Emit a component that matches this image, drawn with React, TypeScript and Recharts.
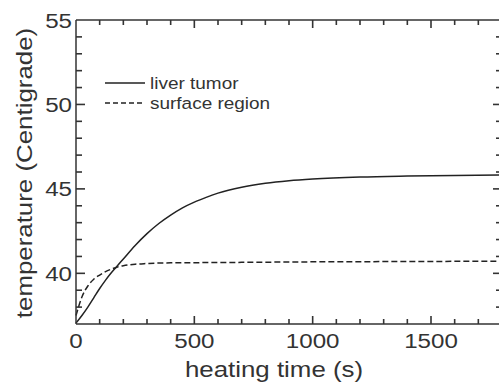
import { LineChart, Line, XAxis, YAxis, ReferenceLine } from 'recharts'

// heating time (s)
const times = [0, 25, 50, 75, 100, 125, 150, 175, 200, 250, 300, 350, 400, 450, 500, 550, 600, 700, 800, 900, 1000, 1200, 1400, 1600, 1800]
const liverTumor = [37.05, 37.5, 38.0, 38.55, 39.1, 39.6, 40.05, 40.45, 40.85, 41.65, 42.35, 42.95, 43.45, 43.88, 44.22, 44.5, 44.75, 45.1, 45.33, 45.48, 45.58, 45.7, 45.76, 45.8, 45.82]
const surfaceRegion = [37.5, 38.6, 39.25, 39.65, 39.9, 40.1, 40.25, 40.38, 40.45, 40.54, 40.58, 40.61, 40.62, 40.63, 40.63, 40.64, 40.64, 40.65, 40.66, 40.67, 40.68, 40.69, 40.7, 40.71, 40.72]
const seriesNames = ['liver tumor', 'surface region']

const xTicks = [0, 100, 200, 300, 400, 500, 600, 700, 800, 900, 1000, 1100, 1200, 1300, 1400, 1500, 1600, 1700, 1800]
const yTicks = [37, 38, 39, 40, 41, 42, 43, 44, 45, 46, 47, 48, 49, 50, 51, 52, 53, 54, 55]

const data = times.map((t, i) => ({ t, tumor: liverTumor[i], surface: surfaceRegion[i] }))

const INK = '#333'
const AXIS = '#333'
// text in the source is wider than Arial, stretch it a bit
const STRETCH = 1.15

function Txt({ x, y, size, anchor = 'start', rotate = 0, children }: any) {
  return (
    <text
      transform={`translate(${x},${y}) rotate(${rotate}) scale(${STRETCH},1)`}
      textAnchor={anchor}
      fontSize={size}
      fontFamily="'Liberation Sans', Arial, sans-serif"
      fill={INK}
    >
      {children}
    </text>
  )
}

const BottomLabel = ({ x, y, payload }: any) => {
  const v = payload.value
  if (v % 500 !== 0 || v >= 1800) return <g />
  return <Txt x={x} y={y + 24} size={21} anchor="middle">{v}</Txt>
}

const LeftLabel = ({ x, y, payload }: any) => {
  const v = payload.value
  if (v % 5 !== 0) return <g />
  return <Txt x={x - 4} y={y + 7.5} size={21} anchor="end">{v}</Txt>
}

// inward ticks on both ends of a reference line (frame ticks)
const vTicks = (len: number) => (p: any) => {
  const top = Math.min(p.y1, p.y2)
  const bottom = Math.max(p.y1, p.y2)
  return (
    <g>
      <line x1={p.x1} x2={p.x1} y1={top} y2={top + len} stroke={AXIS} strokeWidth={1.6} />
      <line x1={p.x1} x2={p.x1} y1={bottom} y2={bottom - len} stroke={AXIS} strokeWidth={1.6} />
    </g>
  )
}

const hTicks = (len: number) => (p: any) => {
  const left = Math.min(p.x1, p.x2)
  const right = Math.max(p.x1, p.x2)
  return (
    <g>
      <line x1={left} x2={left + len} y1={p.y1} y2={p.y1} stroke={AXIS} strokeWidth={1.6} />
      <line x1={right} x2={right - len} y1={p.y1} y2={p.y1} stroke={AXIS} strokeWidth={1.6} />
    </g>
  )
}

// titles and legend, laid over the chart
const Overlay = () => (
  <svg width={499} height={388} style={{ position: 'absolute', left: 0, top: 0, pointerEvents: 'none' }}>
    <Txt x={274} y={377} size={22.5} anchor="middle">heating time (s)</Txt>
    <Txt x={32} y={173} size={22.5} anchor="middle" rotate={-90}>temperature (Centigrade)</Txt>
    {seriesNames.map((name, i) => (
      <g key={name}>
        <line x1={105} x2={145} y1={83 + i * 20} y2={83 + i * 20} stroke="#222" strokeWidth={1.4} strokeDasharray={i ? '5 3' : undefined} />
        <Txt x={150} y={89 + i * 20} size={16.5}>{name}</Txt>
      </g>
    ))}
  </svg>
)

export default function App() {
  return (
    <div style={{ position: 'absolute', left: 0, top: 0, width: 499, height: 388, overflow: 'hidden', background: '#fff' }}>
      <LineChart width={510} height={388} data={data} margin={{ top: 20, right: 8, bottom: 0, left: 0 }}>
        <XAxis
          dataKey="t"
          type="number"
          domain={[0, 1800]}
          ticks={xTicks}
          interval={0}
          tickSize={0}
          tickMargin={0}
          tickLine={false}
          tick={BottomLabel}
          height={64}
          stroke={AXIS}
          strokeWidth={1.5}
        />
        <YAxis
          type="number"
          domain={[37, 55]}
          ticks={yTicks}
          interval={0}
          tickSize={0}
          tickMargin={0}
          tickLine={false}
          tick={LeftLabel}
          width={76}
          stroke={AXIS}
          strokeWidth={1.5}
        />
        <ReferenceLine y={55} stroke={AXIS} strokeWidth={1.5} />
        <ReferenceLine x={1800} stroke={AXIS} strokeWidth={1.5} />
        {xTicks.filter((v) => v > 0 && v < 1800).map((v) => (
          <ReferenceLine key={`x${v}`} x={v} shape={vTicks(v % 500 === 0 ? 8 : 5)} />
        ))}
        {yTicks.filter((v) => v > 37 && v < 55).map((v) => (
          <ReferenceLine key={`y${v}`} y={v} shape={hTicks(v % 5 === 0 ? 9 : 6)} />
        ))}
        <Line dataKey="tumor" name={seriesNames[0]} type="monotone" stroke="#222" strokeWidth={1.5} dot={false} isAnimationActive={false} />
        <Line dataKey="surface" name={seriesNames[1]} type="monotone" stroke="#222" strokeWidth={1.5} strokeDasharray="6 3" dot={false} isAnimationActive={false} />
      </LineChart>
      <Overlay />
    </div>
  )
}
